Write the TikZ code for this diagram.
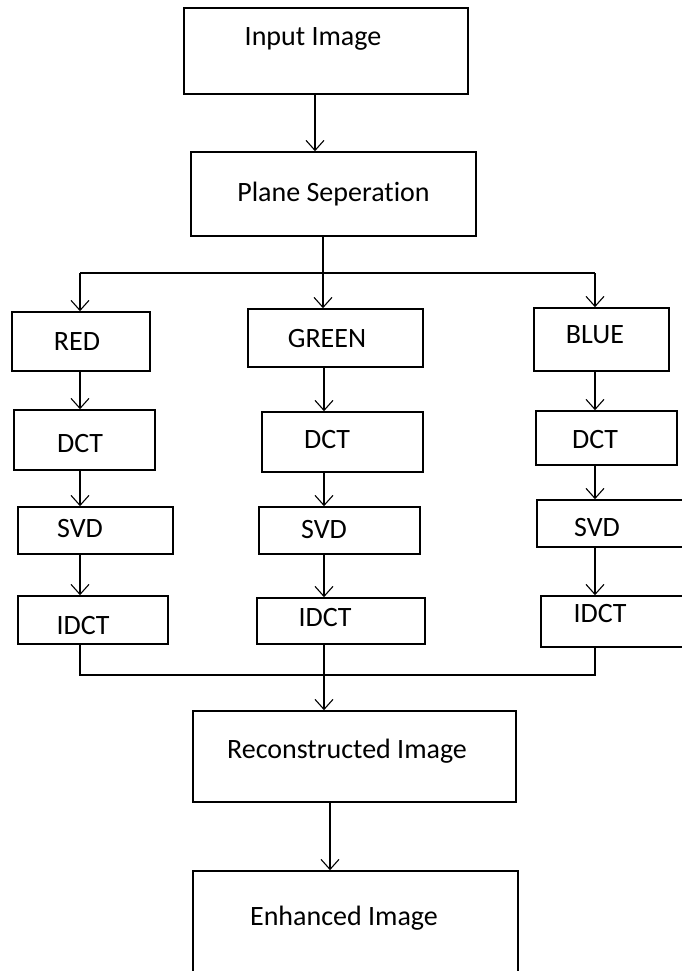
\documentclass[tikz,border=0pt]{standalone}
\usepackage{fontspec}
\setmainfont{Carlito}[Ligatures=NoCommon]
\usetikzlibrary{arrows.meta}

\tikzset{
 blk/.style={draw, line width=1.6pt, inner sep=0pt},
 flow/.style={line width=1.5pt, -{Straight Barb[length=10pt,width=18pt,line width=1.1pt]}},
 wire/.style={line width=1.5pt},
 every label/.style={text height=18pt, text depth=0pt, inner sep=0pt},
}

\begin{document}
\begin{tikzpicture}[x=1pt,y=-1pt,font=\fontsize{28}{34}\selectfont]
\useasboundingbox (0,0) rectangle (682,971);
\clip (0,0) rectangle (682,971);

 % column lines
 \coordinate (colr) at (80,0);
 \coordinate (colg) at (324,0);
 \coordinate (colb) at (595,0);
 \coordinate (cin) at (315,0);
 \coordinate (cout) at (330,0);
 \coordinate (split) at (323,273);
 \coordinate (merge) at (324,675);

 \node[blk, minimum width=284, minimum height=86, label={[xshift=-13pt,yshift=14pt]center:Input Image}] (inp) at (326,51) {};
 \node[blk, minimum width=285, minimum height=84, label={[yshift=2pt]center:Plane Seperation}] (sep) at (333.5,194) {};

 \node[blk, minimum width=138, minimum height=59, label={[xshift=-4pt]center:RED}] (red) at (81,341.5) {};
 \node[blk, minimum width=141, minimum height=60, label={[xshift=-4.5pt,yshift=-3pt]center:DCT}] (dctr) at (84.5,440) {};
 \node[blk, minimum width=155, minimum height=47, label={[xshift=-15.5pt,yshift=2.5pt]center:SVD}] (svdr) at (95.5,530.5) {};
 \node[blk, minimum width=150, minimum height=48, label={[xshift=-10pt,yshift=-5pt]center:IDCT}] (idctr) at (93,620) {};

 \node[blk, minimum width=175, minimum height=58, label={[xshift=-8.5pt]center:GREEN}] (green) at (335.5,338) {};
 \node[blk, minimum width=161, minimum height=60, label={[xshift=-15.5pt,yshift=3pt]center:DCT}] (dctg) at (342.5,442) {};
 \node[blk, minimum width=161, minimum height=47, label={[xshift=-15.5pt,yshift=1.5pt]center:SVD}] (svdg) at (339.5,530.5) {};
 \node[blk, minimum width=168, minimum height=46, label={[xshift=-16pt,yshift=4pt]center:IDCT}] (idctg) at (341,621) {};

 \node[blk, minimum width=135, minimum height=63, label={[xshift=-6.5pt,yshift=5.5pt]center:BLUE}] (blue) at (601.5,339.5) {};
 \node[blk, minimum width=141, minimum height=54, label={[xshift=-11.5pt,yshift=-1pt]center:DCT}] (dctb) at (606.5,438) {};
 \node[blk, minimum width=163, minimum height=47, label={[xshift=-21.5pt,yshift=-3.5pt]center:SVD}] (svdb) at (618.5,523.5) {};
 \node[blk, minimum width=159, minimum height=51, label={[xshift=-20.5pt,yshift=8.5pt]center:IDCT}] (idctb) at (620.5,621.5) {};

 \node[blk, minimum width=323, minimum height=91, label={[xshift=-7.5pt,yshift=7.5pt]center:Reconstructed Image}] (rec) at (354.5,756.5) {};
 \node[blk, minimum width=325, minimum height=119, label={[xshift=-11.5pt,yshift=14.5pt]center:Enhanced Image}] (enh) at (355.5,930.5) {};

 \draw[flow] (inp.south -| cin) -- (sep.north -| cin);
 \draw[wire] (sep.south -| split) -- (split);
 \draw[wire] (split -| colr) -- (split -| colb);
 \draw[flow] (split -| colr) -- (red.north -| colr);
 \draw[flow] (split) -- (green.north -| split);
 \draw[flow] (split -| colb) -- (blue.north -| colb);

 \draw[flow] (red.south -| colr) -- (dctr.north -| colr);
 \draw[flow] (dctr.south -| colr) -- (svdr.north -| colr);
 \draw[flow] (svdr.south -| colr) -- (idctr.north -| colr);

 \draw[flow] (green.south -| colg) -- (dctg.north -| colg);
 \draw[flow] (dctg.south -| colg) -- (svdg.north -| colg);
 \draw[flow] (svdg.south -| colg) -- (idctg.north -| colg);

 \draw[flow] (blue.south -| colb) -- (dctb.north -| colb);
 \draw[flow] (dctb.south -| colb) -- (svdb.north -| colb);
 \draw[flow] (svdb.south -| colb) -- (idctb.north -| colb);

 \draw[wire] (idctr.south -| colr) -- (merge -| colr) -- (merge -| colb) -- (idctb.south -| colb);
 \draw[wire] (idctg.south -| merge) -- (merge);
 \draw[flow] (merge) -- (rec.north -| merge);
 \draw[flow] (rec.south -| cout) -- (enh.north -| cout);

\end{tikzpicture}
\end{document}
